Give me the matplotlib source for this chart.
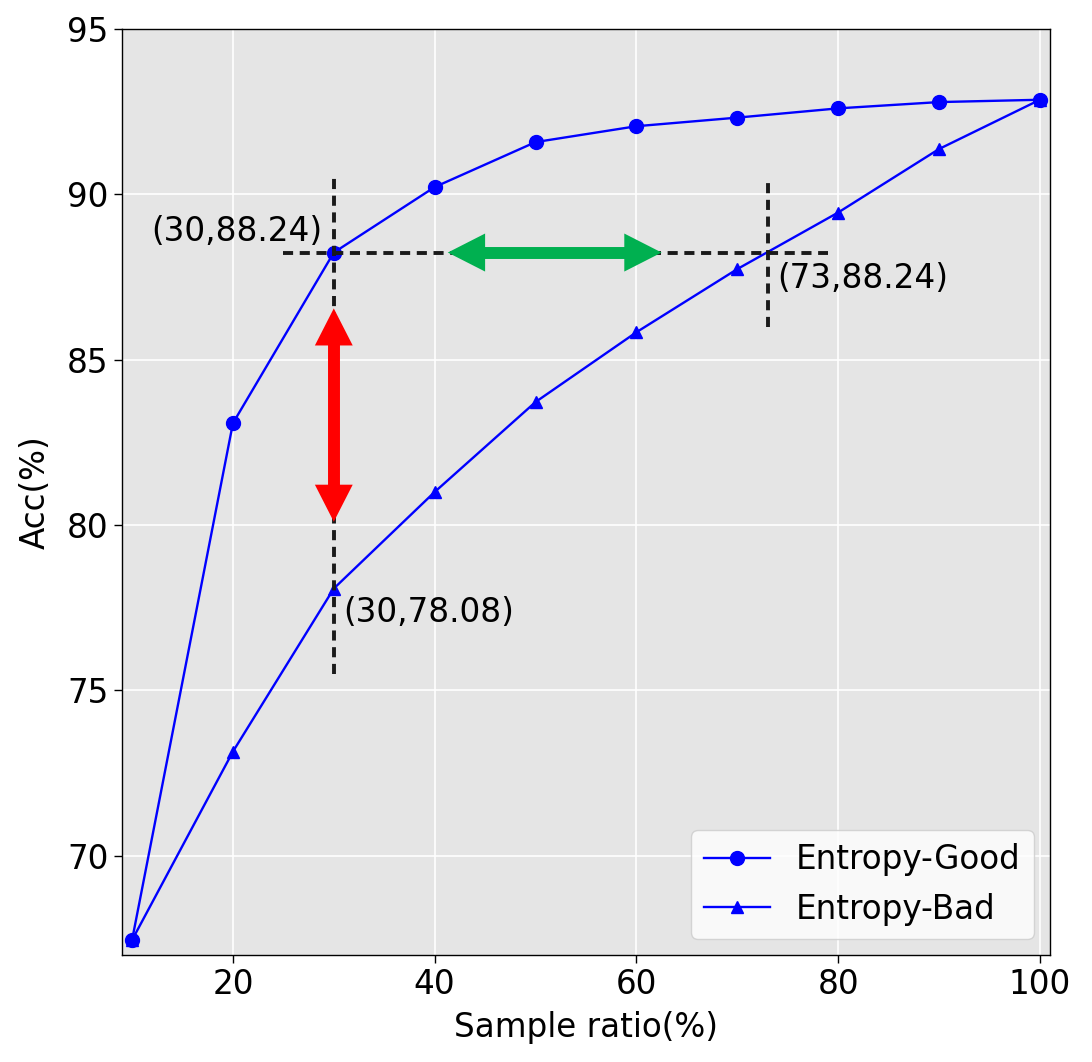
import matplotlib
matplotlib.use("Agg")
import matplotlib.pyplot as plt

# data
ratios = [10, 20, 30, 40, 50, 60, 70, 80, 90, 100]
acc_good = [67.45, 83.08, 88.24, 90.22, 91.58, 92.06, 92.32, 92.6, 92.79, 92.86]
acc_bad = [67.45, 73.15, 78.08, 81.0, 83.72, 85.83, 87.74, 89.45, 91.37, 92.86]

x_ticks = [20, 40, 60, 80, 100]
y_ticks = [70, 75, 80, 85, 90, 95]

# reference points
ref_x = 30
ref_good = 88.24
ref_bad = 78.08
match_x = 73

FS = 23.5
BG = "#e5e5e5"

fig = plt.figure(figsize=(10.92, 10.62), dpi=100)
ax = fig.add_axes([0.1117, 0.1008, 0.8498, 0.8719])
ax.set_facecolor(BG)
ax.grid(True, color="white", linewidth=1.2)
ax.set_axisbelow(True)
for sp in ax.spines.values():
    sp.set_color("black")
    sp.set_linewidth(1.0)

ax.plot(ratios, acc_good, color="blue", marker="o", markersize=10,
        linewidth=1.7, label="Entropy-Good", zorder=3)
ax.plot(ratios, acc_bad, color="blue", marker="^", markersize=9,
        linewidth=1.7, label="Entropy-Bad", zorder=3)

# dashed guide lines
dash = dict(color="#1a1a1a", linestyle=(0, (2.6, 1.7)), linewidth=2.8, zorder=4)
ax.plot([ref_x, ref_x], [75.5, 90.5], **dash)
ax.plot([25, 79], [ref_good, ref_good], **dash)
ax.plot([match_x, match_x], [86.0, 90.5], **dash)

# green double arrow: shaft + two heads
GREEN = "#00b050"
g0, g1 = 41.3, 62.5
g_hl = 3.7      # head length (x units)
g_hw = 1.15     # head width (y units)
ax.plot([g0 + g_hl - 0.3, g1 - g_hl + 0.3], [ref_good, ref_good], color=GREEN,
        linewidth=8.6, solid_capstyle="butt", zorder=5)
for tip, sgn in ((g0, -1), (g1, 1)):
    ax.arrow(tip - sgn * g_hl, ref_good, sgn * g_hl, 0, width=0, head_width=g_hw,
             head_length=g_hl, length_includes_head=True, color=GREEN, lw=0, zorder=5)

# red double arrow: shaft + two heads
r0, r1 = 80.1, 86.55
r_hl = 1.12     # head length (y units)
r_hw = 3.75     # head width (x units)
ax.plot([ref_x, ref_x], [r0 + r_hl - 0.1, r1 - r_hl + 0.1], color="red",
        linewidth=8.6, solid_capstyle="butt", zorder=5)
for tip, sgn in ((r0, -1), (r1, 1)):
    ax.arrow(ref_x, tip - sgn * r_hl, 0, sgn * r_hl, width=0, head_width=r_hw,
             head_length=r_hl, length_includes_head=True, color="red", lw=0, zorder=5)

ax.text(28.9, 88.87, "(30,88.24)", fontsize=FS, ha="right", va="center")
ax.text(74.0, 87.45, "(73,88.24)", fontsize=FS, ha="left", va="center")
ax.text(30.9, 77.36, "(30,78.08)", fontsize=FS, ha="left", va="center")

ax.set_xlim(9, 101)
ax.set_ylim(67, 95)
ax.set_xticks(x_ticks)
ax.set_yticks(y_ticks)
ax.tick_params(labelsize=FS, length=6, width=1)
ax.set_xlabel("Sample ratio(%)", fontsize=FS, labelpad=7)
ax.set_ylabel("Acc(%)", fontsize=FS, labelpad=11)

ax.legend(loc="lower right", fontsize=FS)

plt.savefig("out.png", dpi=100)
plt.close(fig)
